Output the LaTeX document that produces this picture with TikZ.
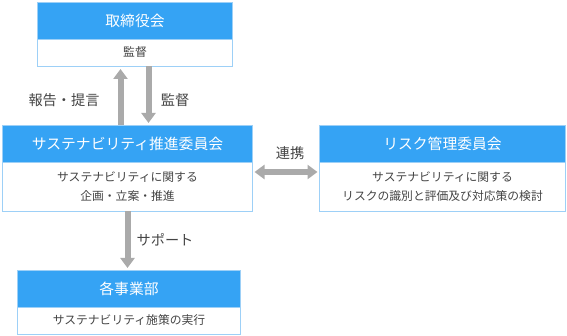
\documentclass[tikz,border=0pt]{standalone}
\usepackage{fontspec}
\setmainfont{Noto Sans CJK JP}
\usetikzlibrary{arrows.meta,calc}
\definecolor{hdr}{HTML}{35A3F4}
\definecolor{bdr}{HTML}{9DD0F7}
\definecolor{txt}{HTML}{444444}
\definecolor{arrg}{HTML}{AAAAAA}
\tikzset{
  hdrbox/.style={draw=bdr,line width=1pt,fill=hdr,text=white,font=\fontsize{14.8}{17}\selectfont,inner sep=0pt,minimum height=37pt,anchor=north west},
  bodybox/.style={draw=bdr,line width=1pt,fill=white,text=txt,font=\fontsize{11.8}{19}\selectfont,inner sep=0pt,align=center,anchor=north west},
  lbl/.style={text=txt,font=\fontsize{14.2}{16}\selectfont,inner sep=0pt},
  arr/.style={draw=arrg,line width=6pt,-{Triangle[width=14pt,length=10pt]}},
  darr/.style={draw=arrg,line width=6pt,{Triangle[width=14pt,length=10pt]}-{Triangle[width=14pt,length=10pt]}}
}
\begin{document}
\begin{tikzpicture}[x=1pt,y=-1pt]
\useasboundingbox (0,0) rectangle (567,336);
% board
\node[bodybox,minimum width=195pt,minimum height=28pt] (b1b) at (37,38) {監督};
\node[hdrbox,minimum width=195pt] (b1h) at (37,2) {取締役会};
% sustainability committee
\node[bodybox,minimum width=250pt,minimum height=50pt] (b2b) at (2,161) {サステナビリティに関する\\企画・立案・推進};
\node[hdrbox,minimum width=250pt] (b2h) at (2,125) {サステナビリティ推進委員会};
% risk committee
\node[bodybox,minimum width=246pt,minimum height=50pt] (b3b) at (319,161) {サステナビリティに関する\\リスクの識別と評価及び対応策の検討};
\node[hdrbox,minimum width=246pt] (b3h) at (319,125) {リスク管理委員会};
% business units
\node[bodybox,minimum width=223pt,minimum height=28pt] (b4b) at (17,306) {サステナビリティ施策の実行};
\node[hdrbox,minimum width=223pt] (b4h) at (17,270) {各事業部};
% arrows
\draw[arr] ([xshift=-7pt]b2h.north) -- ([xshift=-7pt,yshift=-2pt]b2h.north |- b1b.south);
\draw[arr] ([xshift=21pt,yshift=0.5pt]b2h.north |- b1b.south) -- ([xshift=21pt,yshift=2pt]b2h.north);
\draw[darr] ([xshift=1.5pt,yshift=-11pt]b2b.north east) -- ([xshift=-1.5pt,yshift=-11pt]b3b.north west);
\draw[arr] ([yshift=0.5pt]b2b.south) -- ([yshift=2pt]b2b.south |- b4h.north);
% labels
\node[lbl] (l1) at (64,100) {報告・提言};
\node[lbl] (l2) at (175,100) {監督};
\node[lbl] (l3) at (290,153) {連携};
\node[lbl] (l4) at (165,240) {サポート};
\end{tikzpicture}
\end{document}
